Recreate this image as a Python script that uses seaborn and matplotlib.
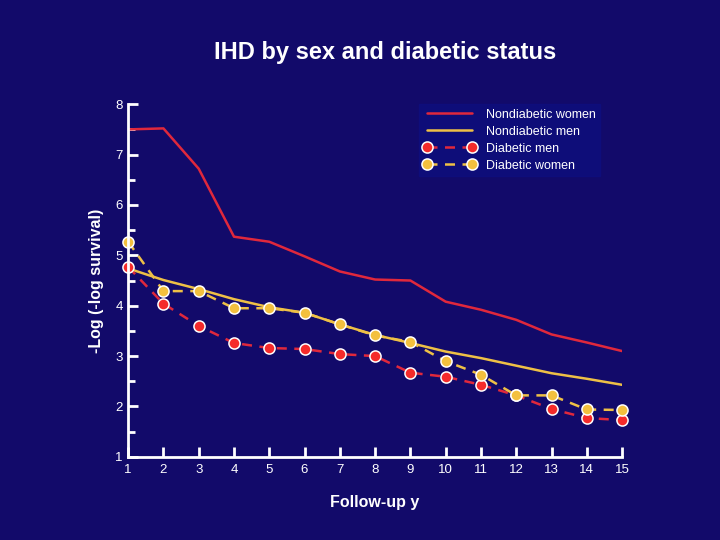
import matplotlib
matplotlib.use('Agg')
import matplotlib.pyplot as plt
import seaborn as sns
import numpy as np

# Follow-up years
years = list(range(1, 16))

# -log(-log survival)
nondiab_women = [7.50, 7.52, 6.72, 5.37, 5.27, 4.98, 4.68, 4.52, 4.50, 4.08, 3.92, 3.72, 3.43, 3.27, 3.10]
nondiab_men = [4.74, 4.51, 4.33, 4.13, 3.97, 3.86, 3.63, 3.42, 3.26, 3.09, 2.96, 2.81, 2.66, 2.55, 2.43]
diab_men = [4.77, 4.04, 3.60, 3.26, 3.16, 3.14, 3.04, 3.00, 2.67, 2.59, 2.43, 2.22, 1.95, 1.77, 1.73]
diab_women = [5.27, 4.29, 4.29, 3.95, 3.95, 3.86, 3.63, 3.41, 3.28, 2.90, 2.63, 2.22, 2.22, 1.94, 1.93]

bg = '#120a6a'
red_line = '#e0283c'
yellow_line = '#eec046'

sns.set_style('white')
plt.rcParams['font.family'] = ['Liberation Sans', 'DejaVu Sans']

fig = plt.figure(figsize=(7.2, 5.4), dpi=100)
fig.patch.set_facecolor(bg)
ax = fig.add_axes([0.178, 0.154, 0.686, 0.653])
ax.set_facecolor(bg)

sns.lineplot(x=years, y=nondiab_women, ax=ax, color=red_line, linewidth=1.8,
             label='Nondiabetic women')
sns.lineplot(x=years, y=nondiab_men, ax=ax, color=yellow_line, linewidth=1.8,
             label='Nondiabetic men')
sns.lineplot(x=years, y=diab_men, ax=ax, color=red_line, linewidth=1.8,
             linestyle=(0, (4, 3)), marker='o', markersize=8,
             markerfacecolor='#f52a2a', markeredgecolor='white', markeredgewidth=1.1,
             label='Diabetic men', clip_on=False)
sns.lineplot(x=years, y=diab_women, ax=ax, color=yellow_line, linewidth=1.8,
             linestyle=(0, (4, 3)), marker='o', markersize=8,
             markerfacecolor='#f3c03e', markeredgecolor='white', markeredgewidth=1.1,
             label='Diabetic women', clip_on=False)

ax.set_xlim(1, 15)
ax.set_ylim(1, 8)
ax.set_xticks(years)
ax.set_yticks(range(1, 9))
ax.set_yticks(np.arange(1.5, 8, 1.0), minor=True)

for side in ['top', 'right']:
    ax.spines[side].set_visible(False)
for side in ['left', 'bottom']:
    ax.spines[side].set_color('white')
    ax.spines[side].set_linewidth(2)

ax.tick_params(axis='both', which='major', direction='in', length=7, width=2,
               colors='white', labelsize=9.5, pad=4)
ax.tick_params(axis='y', which='minor', direction='in', length=5, width=2,
               colors='white', left=True)
ax.tick_params(axis='x', pad=5)
ax.tick_params(axis='y', which='major', left=True)
ax.tick_params(axis='x', which='major', bottom=True)

ax.set_xlabel('Follow-up y', color='white', fontsize=11.5, fontweight='bold', labelpad=14)
ax.set_ylabel('-Log (-log survival)', color='white', fontsize=11.5, fontweight='bold', labelpad=8)

fig.text(0.535, 0.903, 'IHD by sex and diabetic status', color='white', fontsize=17,
         fontweight='bold', ha='center', va='center')

leg = ax.legend(loc='upper right', bbox_to_anchor=(0.955, 1.0), numpoints=2,
                frameon=True, fancybox=False, fontsize=9, handlelength=4.2,
                handletextpad=0.8, labelspacing=0.4, borderpad=0.35, borderaxespad=0.0)
leg.get_frame().set_facecolor('#0e0e7e')
leg.get_frame().set_edgecolor('#0e0e7e')
for t in leg.get_texts():
    t.set_color('white')

fig.savefig('out.png', dpi=100, facecolor=bg)
